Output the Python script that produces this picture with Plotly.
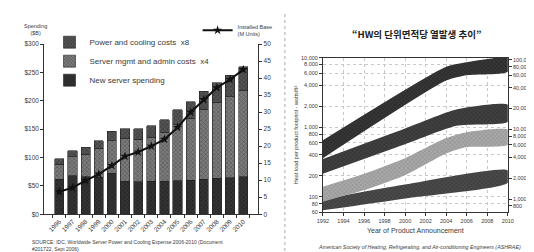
import math
import plotly.graph_objects as go

# ---------------- Left chart data (IDC) ----------------
years = ["1996", "1997", "1998", "1999", "2000", "2001", "2002", "2003",
         "2004", "2005", "2006", "2007", "2008", "2009", "2010"]
new_server = [62, 68, 66, 65, 72, 58, 57, 58, 58, 59, 60, 62, 63, 64, 66]
mgmt_admin = [26, 33, 40, 51, 58, 76, 75, 77, 86, 99, 109, 123, 134, 143, 153]
power_cooling = [10, 11, 12, 14, 16, 17, 19, 21, 23, 26, 29, 32, 35, 38, 41]
installed_base = [6.6, 7.8, 9.9, 11.8, 14.3, 17.0, 18.3, 20.0, 22.0, 25.5,
                  30.0, 33.7, 37.2, 39.6, 42.5]
spend_ticks = [0, 50, 100, 150, 200, 250, 300]
spend_labels = ["$0", "$50", "$100", "$150", "$200", "$250", "$300"]
base_ticks = [0, 5, 10, 15, 20, 25, 30, 35, 40, 45, 50]

# ---------------- Right chart data (ASHRAE) ----------------
comm_years = [1992, 2004, 2006, 2010]
comm_low = [360, 4700, 5600, 6300]
comm_high = [650, 7400, 8600, 9800]

srv_years = [1992, 2000, 2005, 2010]
srv_low = [215, 570, 1050, 1200]
srv_high = [350, 960, 1800, 2100]

lt_years = [1992, 1996, 2000, 2004, 2006, 2010]
lt_low = [85, 125, 205, 420, 520, 560]
lt_high = [140, 215, 360, 700, 850, 920]

tape_years = [1992, 2000, 2010]
tape_low = [64, 95, 160]
tape_high = [92, 150, 240]

x_years = [1992, 1994, 1996, 1998, 2000, 2002, 2004, 2006, 2008, 2010]
ft_ticks = [60, 80, 100, 200, 400, 600, 800, 1000, 2000, 4000, 6000, 8000, 10000]
ft_labels = ["60", "80", "100", "200", "400", "600", "800", "1,000", "2,000",
             "4,000", "6,000", "8,000", "10,000"]
m_ticks = [800, 1000, 2000, 4000, 6000, 8000, 10000, 20000, 40000, 60000,
           80000, 100000]
m_labels = ["800", "1,000", "2,000", "4,000", "6,000", "8,000", "10,000",
            "20,000", "40,000", "60,000", "80,000", "100,000"]
FT2_TO_M2 = 10.764

FONT = "Liberation Sans, Arial, sans-serif"
TXT = "#3a3a3a"

fig = go.Figure()

# stacked bars
bar_specs = [
    ("New server spending", new_server, "#343434", "#111111"),
    ("Server mgmt and admin costs  x4", mgmt_admin, "#7c7c7c", "#333333"),
    ("Power and cooling costs  x8", power_cooling, "#555555", "#1e1e1e"),
]
for name, vals, bg, fg in bar_specs:
    fig.add_trace(go.Bar(
        x=years, y=vals, name=name, xaxis="x", yaxis="y",
        marker=dict(color=bg, line=dict(color="#222", width=0.6),
                    pattern=dict(shape="x", fgcolor=fg, bgcolor=bg,
                                 size=3, solidity=0.4)),
        legend="legend",
    ))

fig.add_trace(go.Scatter(
    x=years, y=installed_base, name="Installed Base<br>(M Units)",
    xaxis="x", yaxis="y2", mode="lines+markers",
    line=dict(color="#111", width=2),
    marker=dict(symbol="star", size=7, color="#111"),
    legend="legend2",
))

# bands (right chart)
band_specs = [
    (tape_years, tape_low, tape_high, "#4a4a4a", "#1e1e1e"),
    (lt_years, lt_low, lt_high, "#a8a8a8", "#707070"),
    (srv_years, srv_low, srv_high, "#404040", "#1a1a1a"),
    (comm_years, comm_low, comm_high, "#363636", "#111111"),
]
for yrs, lo, hi, bg, fg in band_specs:
    fig.add_trace(go.Scatter(
        x=list(yrs) + list(yrs)[::-1], y=list(hi) + list(lo)[::-1],
        xaxis="x3", yaxis="y3", mode="lines", fill="toself",
        line=dict(width=0, shape="spline", smoothing=0.6, color=bg),
        fillcolor=bg,
        fillpattern=dict(shape="x", fgcolor=fg, bgcolor=bg, size=3,
                         solidity=0.3),
        showlegend=False, hoverinfo="skip",
    ))

# invisible trace to carry the right-hand (watts/m2) axis
fig.add_trace(go.Scatter(
    x=[x_years[0]], y=[m_ticks[0]], xaxis="x3", yaxis="y4", mode="markers",
    marker=dict(opacity=0), showlegend=False, hoverinfo="skip",
))

tickfont = dict(family=FONT, size=6.5, color=TXT)
smallfont = dict(family=FONT, size=5.5, color=TXT)
axis_common = dict(showline=True, linecolor="#333", linewidth=1,
                   ticks="outside", ticklen=3, tickcolor="#333",
                   zeroline=False)

lo3 = math.log10(60)
hi3 = math.log10(10000)
shift = math.log10(FT2_TO_M2)

fig.update_layout(
    width=534, height=252,
    margin=dict(l=0, r=0, t=0, b=0),
    paper_bgcolor="white", plot_bgcolor="white",
    barmode="stack", bargap=0.3,
    font=dict(family=FONT, color=TXT),
    xaxis=dict(domain=[0.058, 0.468], anchor="y", type="category",
               tickangle=-45, tickson="boundaries", showgrid=False,
               tickfont=tickfont, **axis_common),
    yaxis=dict(domain=[0.1746, 0.869], anchor="x", range=[0, 300],
               tickvals=spend_ticks, ticktext=spend_labels, showgrid=False,
               tickfont=tickfont, **axis_common),
    yaxis2=dict(overlaying="y", side="right", anchor="x", range=[0, 50],
                tickvals=base_ticks, showgrid=False, tickfont=tickfont,
                **axis_common),
    xaxis3=dict(domain=[0.5918, 0.946], anchor="y3", range=[1992, 2010],
                tickvals=x_years, showgrid=True, gridcolor="#c8c8c8",
                griddash="dot", gridwidth=0.7, mirror=True,
                tickfont=smallfont,
                title=dict(text="Year of Product Announcement",
                           font=dict(family=FONT, size=7, color=TXT),
                           standoff=5),
                **axis_common),
    yaxis3=dict(domain=[0.1825, 0.8135], anchor="x3", type="log",
                range=[lo3, hi3], tickvals=ft_ticks, ticktext=ft_labels,
                showgrid=True, gridcolor="#c8c8c8", griddash="dot",
                gridwidth=0.7, mirror=True, tickfont=smallfont,
                title=dict(text="Heat load per product footprint - watts/ft²",
                           font=dict(family=FONT, size=5.5, color=TXT),
                           standoff=2),
                **axis_common),
    yaxis4=dict(overlaying="y3", side="right", anchor="x3", type="log",
                range=[lo3 + shift, hi3 + shift], tickvals=m_ticks,
                ticktext=m_labels, showgrid=False, tickfont=smallfont,
                **axis_common),
    legend=dict(x=0.068, y=0.936, xanchor="left", yanchor="top",
                traceorder="reversed", bgcolor="rgba(0,0,0,0)",
                font=dict(family=FONT, size=8, color=TXT),
                itemwidth=30, tracegroupgap=0),
    legend2=dict(x=0.505, y=0.985, xanchor="right", yanchor="top",
                 bgcolor="rgba(0,0,0,0)",
                 font=dict(family=FONT, size=5.5, color=TXT),
                 itemwidth=30),
    showlegend=True,
)

annotations = [
    dict(text="Spending<br>($B)", x=0.042, y=0.965, xref="paper",
         yref="paper", xanchor="center", yanchor="top", showarrow=False,
         font=dict(family=FONT, size=5.5, color=TXT)),
    dict(text="SOURCE: IDC, Worldwide Server Power and Cooling Expense 2006-2010 (Document"
              "<br>#201722, Sept 2006)",
         x=0.03, y=0.048, xref="paper", yref="paper", xanchor="left",
         yanchor="middle", align="left", showarrow=False,
         font=dict(family=FONT, size=5, color=TXT)),
    dict(text="<b>“HW의 단위면적당 열발생 추이”</b>", x=0.772, y=0.91,
         xref="paper", yref="paper", xanchor="center", yanchor="middle",
         showarrow=False,
         font=dict(family="Noto Sans CJK KR", size=9.5, color="#222")),
    dict(text="<i>American Society of Heating, Refrigerating, and Air-conditioning Engineers (ASHRAE)</i>",
         x=0.578, y=0.04, xref="paper", yref="paper", xanchor="left",
         yanchor="middle", showarrow=False,
         font=dict(family=FONT, size=5.3, color=TXT)),
]
fig.update_layout(annotations=annotations)

fig.add_shape(type="line", xref="paper", yref="paper", x0=0.519, x1=0.519,
              y0=0.0, y1=1.0, line=dict(color="#aaa", width=1, dash="dot"))

fig.write_html("out.html")
